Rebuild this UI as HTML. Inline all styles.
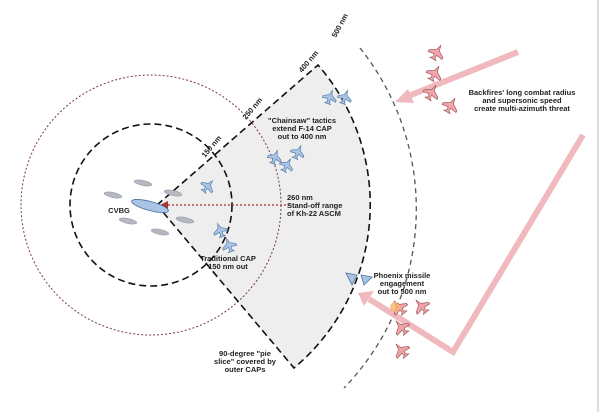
<!DOCTYPE html>
<html><head><meta charset="utf-8"><style>
html,body{margin:0;padding:0;background:#fff}
svg{display:block}
text{font-family:"Liberation Sans",Arial,sans-serif;font-weight:bold;font-size:7.5px;fill:#222}
</style></head><body>
<svg width="600" height="412" viewBox="0 0 600 412" xmlns="http://www.w3.org/2000/svg">
<defs>
<g id="bp"><path d="M0,-7 L1.5,-2 L7,1 L7,3 L1.5,2 L1,5 L3,7 L-3,7 L-1,5 L-1.5,2 L-7,3 L-7,1 L-1.5,-2 Z" fill="#a9c4e4" stroke="#5a7fb0" stroke-width="0.7"/></g>
<g id="rp"><path d="M0,-8 L1.5,-2 L8,2 L8,4 L1.5,3 L1,6 L3.5,8 L-3.5,8 L-1,6 L-1.5,3 L-8,4 L-8,2 L-1.5,-2 Z" fill="#f2a4a8" stroke="#9b5a5e" stroke-width="0.7"/></g>
</defs>
<rect x="0" y="0" width="600" height="412" fill="#fff"/>
<!-- wedge -->
<path d="M157,205 L318,65 A213,213 0 0 1 294,368 Z" fill="#eeeeee"/>
<!-- outer red dotted circle -->
<circle cx="151" cy="205" r="130" fill="none" stroke="#7a3a3a" stroke-width="1" stroke-dasharray="2,2"/>
<!-- inner dashed -->
<circle cx="151" cy="205" r="81" fill="none" stroke="#111" stroke-width="1.6" stroke-dasharray="7,4"/>
<!-- wedge edges -->
<path d="M157,205 L318,65 A213,213 0 0 1 294,368 Z" fill="none" stroke="#111" stroke-width="1.6" stroke-dasharray="7,4"/>
<!-- 500nm arc -->
<path d="M360,48 A258,258 0 0 1 344,388" fill="none" stroke="#555" stroke-width="1.3" stroke-dasharray="5,4"/>
<!-- pink arrows -->
<g stroke="#efb9bd" stroke-width="6" fill="none" stroke-linecap="butt">
<line x1="518" y1="52" x2="406" y2="97"/>
<polyline points="583,135 453,352 369,299"/>
</g>
<polygon points="395,102 408,89 414,103" fill="#efb9bd"/>
<polygon points="358,293 374,291 364,306" fill="#efb9bd"/>
<!-- red dotted arrow -->
<line x1="290" y1="205" x2="166" y2="205" stroke="#a33" stroke-width="1.3" stroke-dasharray="2,2"/>
<polygon points="160,205 168,201 168,209" fill="#a33"/>
<!-- ships -->
<g fill="#b5b9c2" stroke="#8f949e" stroke-width="0.5">
<ellipse cx="143" cy="183" rx="9" ry="2.5" transform="rotate(12 143 183)"/>
<ellipse cx="113" cy="195" rx="9" ry="2.5" transform="rotate(12 113 195)"/>
<ellipse cx="173" cy="193" rx="9" ry="2.5" transform="rotate(12 173 193)"/>
<ellipse cx="128" cy="221" rx="9" ry="2.5" transform="rotate(12 128 221)"/>
<ellipse cx="185" cy="220" rx="9" ry="2.5" transform="rotate(12 185 220)"/>
<ellipse cx="160" cy="232" rx="9" ry="2.5" transform="rotate(12 160 232)"/>
</g>
<ellipse cx="150" cy="206" rx="19" ry="4.5" transform="rotate(15 150 206)" fill="#a9c4e4" stroke="#4a6f9e" stroke-width="0.8"/>
<!-- blue planes -->
<use href="#bp" transform="translate(208,186) rotate(40)"/>
<use href="#bp" transform="translate(220,230) rotate(-20)"/>
<use href="#bp" transform="translate(229,245) rotate(-20)"/>
<use href="#bp" transform="translate(275,157) rotate(20)"/>
<use href="#bp" transform="translate(287,165) rotate(30)"/>
<use href="#bp" transform="translate(298,152) rotate(25)"/>
<use href="#bp" transform="translate(330,97) rotate(20)"/>
<use href="#bp" transform="translate(345,97) rotate(20)"/>
<polygon points="346,273 357,275 352,285" fill="#a9c4e4" stroke="#4a6f9e" stroke-width="0.8"/>
<polygon points="361,275 372,277 364,285" fill="#a9c4e4" stroke="#4a6f9e" stroke-width="0.8"/>
<!-- red planes -->
<use href="#rp" transform="translate(437,52) rotate(30)"/>
<use href="#rp" transform="translate(435,73) rotate(30)"/>
<use href="#rp" transform="translate(432,92) rotate(30)"/>
<use href="#rp" transform="translate(451,105) rotate(30)"/>
<use href="#rp" transform="translate(399,307) rotate(-40)"/>
<use href="#rp" transform="translate(421,306) rotate(-40)"/>
<use href="#rp" transform="translate(401,327) rotate(-40)"/>
<use href="#rp" transform="translate(401,350) rotate(-40)"/>
<circle cx="395" cy="307" r="5" fill="#f6b26b" opacity="0.8"/>
<!-- labels -->
<text x="119" y="213" text-anchor="middle">CVBG</text>
<text x="302" y="123" text-anchor="middle">"Chainsaw" tactics</text>
<text x="302" y="131" text-anchor="middle">extend F-14 CAP</text>
<text x="302" y="139" text-anchor="middle">out to 400 nm</text>
<text x="287" y="200">260 nm</text>
<text x="287" y="208">Stand-off range</text>
<text x="287" y="216">of Kh-22 ASCM</text>
<text x="228" y="261" text-anchor="middle">Traditional CAP</text>
<text x="228" y="269" text-anchor="middle">150 nm out</text>
<text x="402" y="278" text-anchor="middle">Phoenix missile</text>
<text x="402" y="286" text-anchor="middle">engagement</text>
<text x="402" y="294" text-anchor="middle">out to 500 nm</text>
<text x="245" y="356" text-anchor="middle">90-degree "pie</text>
<text x="245" y="364" text-anchor="middle">slice" covered by</text>
<text x="245" y="372" text-anchor="middle">outer CAPs</text>
<text x="522" y="95" text-anchor="middle">Backfires' long combat radius</text>
<text x="522" y="103" text-anchor="middle">and supersonic speed</text>
<text x="522" y="111" text-anchor="middle">create multi-azimuth threat</text>
<g style="font-size:6px">
<text transform="translate(205,158) rotate(-50)">150 nm</text>
<text transform="translate(246,120) rotate(-50)">250 nm</text>
<text transform="translate(302,73) rotate(-50)">400 nm</text>
<text transform="translate(336,38) rotate(-62)">500 nm</text>
</g>
<line x1="598" y1="0" x2="598" y2="412" stroke="#ddd" stroke-width="2"/>
</svg>
</body></html>
